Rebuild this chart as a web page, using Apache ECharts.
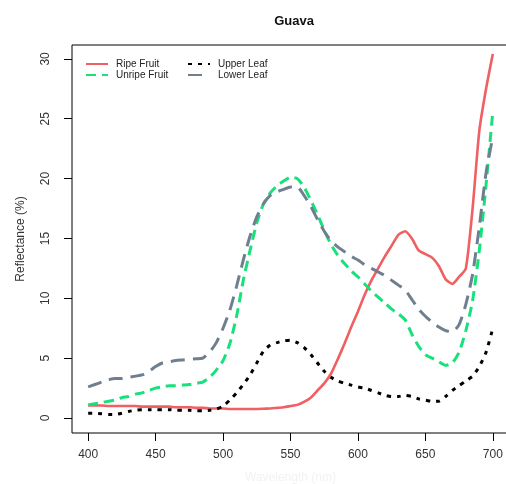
<!DOCTYPE html>
<html>
<head>
<meta charset="utf-8">
<script src="https://cdn.jsdelivr.net/npm/echarts@6/dist/echarts.min.js"></script>
<style>html,body{margin:0;padding:0;background:#fff;}#c{width:506px;height:484px;}</style>
</head>
<body>
<div id="c"></div>
<script>
var wavelengths = [400,405,410,415,420,425,430,435,440,445,450,455,460,465,470,475,480,485,490,495,500,505,510,515,520,525,530,535,540,545,550,555,560,565,570,575,580,585,590,595,600,605,610,615,620,625,630,635,640,645,650,655,660,665,670,675,680,685,690,695,700];
var ripeFruit = [1.05,1.05,1.05,1.0,1.0,1.0,1.0,1.0,0.95,0.95,0.95,0.95,0.95,0.9,0.9,0.9,0.85,0.85,0.8,0.8,0.8,0.75,0.75,0.75,0.75,0.75,0.78,0.8,0.85,0.9,1.0,1.1,1.35,1.7,2.3,2.9,3.7,4.9,6.2,7.6,8.9,10.3,11.5,12.5,13.5,14.4,15.3,15.6,15.0,14.0,13.7,13.4,12.7,11.6,11.2,11.8,12.5,17.5,24.0,27.5,30.4];
var unripeFruit = [1.1,1.2,1.3,1.4,1.5,1.7,1.8,2.0,2.1,2.3,2.5,2.6,2.7,2.7,2.75,2.8,2.9,3.0,3.4,4.0,4.8,6.2,8.5,11.5,14.0,16.3,17.9,18.8,19.4,19.8,20.1,20.0,19.3,18.2,17.0,15.7,14.5,13.6,12.9,12.3,11.8,11.2,10.6,10.1,9.6,9.1,8.7,8.2,7.0,6.0,5.3,5.0,4.7,4.4,4.6,5.5,7.3,9.8,14.0,19.5,25.6];
var upperLeaf = [0.4,0.4,0.35,0.3,0.3,0.4,0.55,0.65,0.7,0.7,0.7,0.7,0.7,0.65,0.65,0.65,0.6,0.6,0.65,0.75,1.0,1.5,2.1,2.8,3.6,4.6,5.6,6.1,6.3,6.45,6.5,6.3,5.9,5.3,4.6,3.9,3.4,3.1,2.9,2.75,2.6,2.5,2.3,2.1,1.9,1.8,1.8,1.9,1.8,1.6,1.5,1.4,1.4,1.8,2.3,2.7,3.1,3.5,4.3,5.5,7.5];
var lowerLeaf = [2.6,2.8,3.0,3.2,3.3,3.3,3.4,3.5,3.6,3.9,4.3,4.6,4.7,4.8,4.85,4.9,4.95,5.0,5.5,6.3,7.5,9.0,11.0,13.2,15.2,16.8,17.9,18.6,18.9,19.1,19.3,19.3,18.6,17.7,16.6,15.6,14.8,14.3,13.9,13.5,13.2,12.8,12.5,12.2,11.9,11.5,11.1,10.7,9.9,9.1,8.5,8.0,7.6,7.3,7.2,7.8,9.5,12.0,16.0,20.5,23.5];
var xTicks = [400,450,500,550,600,650,700];
var yTicks = [0,5,10,15,20,25,30];

function pairs(v){ return wavelengths.map(function(w,i){ return [w, v[i]]; }); }

var chart = echarts.init(document.getElementById('c'), null, {renderer:'canvas'});
var font = 'Liberation Sans, Arial, sans-serif';
function mk(name, data, color, width, type){
  return {name:name, type:'line', data:pairs(data), showSymbol:false, symbol:'none', smooth:0.2,
    lineStyle:{color:color, width:width, type:type, cap:'butt'}, itemStyle:{color:color}, z:3, silent:true};
}
var legendBase = {orient:'vertical', top:54, itemWidth:22, itemHeight:10, itemGap:1, selectedMode:false,
  itemStyle:{opacity:0, borderWidth:0},
  textStyle:{fontFamily:font, fontSize:10, color:'#222', padding:[0,0,0,3]}};
chart.setOption({
  animation:false,
  backgroundColor:'#ffffff',
  title:{text:'Guava', left:289, top:10, textAlign:'center',
    textStyle:{fontFamily:font, fontSize:13, fontWeight:'bold', color:'#111'}},
  grid:{left:72, top:45, width:437, height:388, outerBoundsMode:'none', containLabel:false,
    show:true, borderColor:'#000', borderWidth:1, backgroundColor:'transparent'},
  xAxis:{type:'value', min:388, max:712,
    name:'Wavelength (nm)', nameLocation:'middle', nameGap:39,
    nameTextStyle:{fontFamily:font, fontSize:12, color:'#f2f2f2'},
    axisLine:{show:false, onZero:false}, splitLine:{show:false},
    axisTick:{show:true, customValues:xTicks, length:8, inside:false, lineStyle:{color:'#000', width:1}},
    axisLabel:{show:true, customValues:xTicks, margin:16, fontFamily:font, fontSize:12, color:'#333'}},
  yAxis:{type:'value', min:-1.25, max:31.16,
    name:'Reflectance (%)', nameLocation:'middle', nameGap:45, nameRotate:90,
    nameTextStyle:{fontFamily:font, fontSize:12, color:'#333'},
    axisLine:{show:false, onZero:false}, splitLine:{show:false},
    axisTick:{show:true, customValues:yTicks, length:8, lineStyle:{color:'#000', width:1}},
    axisLabel:{show:true, customValues:yTicks, rotate:90, margin:20, fontFamily:font, fontSize:12, color:'#333'}},
  legend:[
    Object.assign({data:['Ripe Fruit','Unripe Fruit'], left:80}, legendBase),
    Object.assign({data:['Upper Leaf','Lower Leaf'], left:182}, legendBase)
  ],
  series:[
    mk('Ripe Fruit', ripeFruit, '#f05f62', 2.6, 'solid'),
    mk('Unripe Fruit', unripeFruit, '#18e07a', 3, [10,6]),
    mk('Upper Leaf', upperLeaf, '#000000', 3, [4,6]),
    mk('Lower Leaf', lowerLeaf, '#6f7f8f', 3, [14,8])
  ]
});
</script>
</body>
</html>
